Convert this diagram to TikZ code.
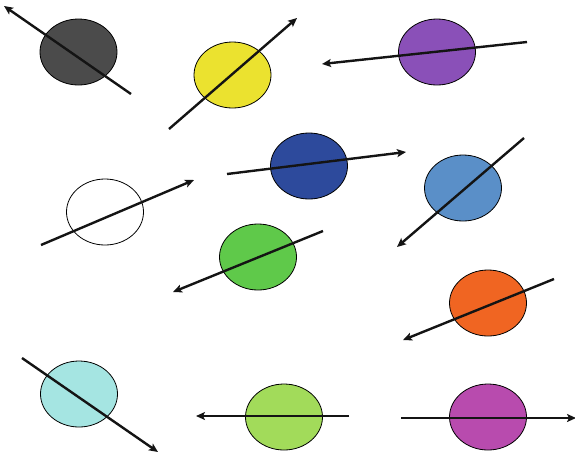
\documentclass[tikz,border=0pt]{standalone}
\usetikzlibrary{shapes.geometric,arrows.meta}
\begin{document}
\begin{tikzpicture}[x=1pt,y=-1pt,
  blob/.style={ellipse,draw=black,line width=0.8pt,minimum width=77pt,minimum height=66pt,inner sep=0pt},
  arr/.style={line width=2.4pt,-{Stealth[length=9pt,width=8pt,inset=2pt]},black!92}]
\useasboundingbox (0,0) rectangle (575,456);
\definecolor{c1}{HTML}{4B4B4B}
\definecolor{c2}{HTML}{EBE22F}
\definecolor{c3}{HTML}{8A50B8}
\definecolor{c5}{HTML}{2D4A9C}
\definecolor{c6}{HTML}{5A8FC8}
\definecolor{c7}{HTML}{5FC94A}
\definecolor{c8}{HTML}{F06522}
\definecolor{c9}{HTML}{A5E5E2}
\definecolor{c10}{HTML}{A2DB5A}
\definecolor{c11}{HTML}{B84BAE}
\node[blob,fill=c1] (e1) at (78.5,52) {};
\node[blob,fill=c2] (e2) at (232.5,75) {};
\node[blob,fill=c3] (e3) at (437,52) {};
\node[blob,fill=white] (e4) at (105,212) {};
\node[blob,fill=c5] (e5) at (309,166) {};
\node[blob,fill=c6] (e6) at (463,188) {};
\node[blob,fill=c7] (e7) at (258,257) {};
\node[blob,fill=c8] (e8) at (488,303) {};
\node[blob,fill=c9] (e9) at (79,394) {};
\node[blob,fill=c10] (e10) at (284,417) {};
\node[blob,fill=c11] (e11) at (488,417) {};
\coordinate (a1) at (131,94);  \coordinate (b1) at (4,6);
\coordinate (a2) at (169,129); \coordinate (b2) at (297,18);
\coordinate (a3) at (527,42);  \coordinate (b3) at (322,64);
\coordinate (a4) at (41,245);  \coordinate (b4) at (194,180);
\coordinate (a5) at (227,174); \coordinate (b5) at (406,152);
\coordinate (a6) at (524,138); \coordinate (b6) at (397,247);
\coordinate (a7) at (323,231); \coordinate (b7) at (173,292);
\coordinate (a8) at (554,279); \coordinate (b8) at (403,340);
\coordinate (a9) at (22,358);  \coordinate (b9) at (158,452);
\coordinate (a10) at (349,416); \coordinate (b10) at (196,416);
\coordinate (a11) at (401,418); \coordinate (b11) at (576,418);
\foreach \i in {1,...,11} {\draw[arr] (a\i) -- (b\i);}
\end{tikzpicture}
\end{document}
